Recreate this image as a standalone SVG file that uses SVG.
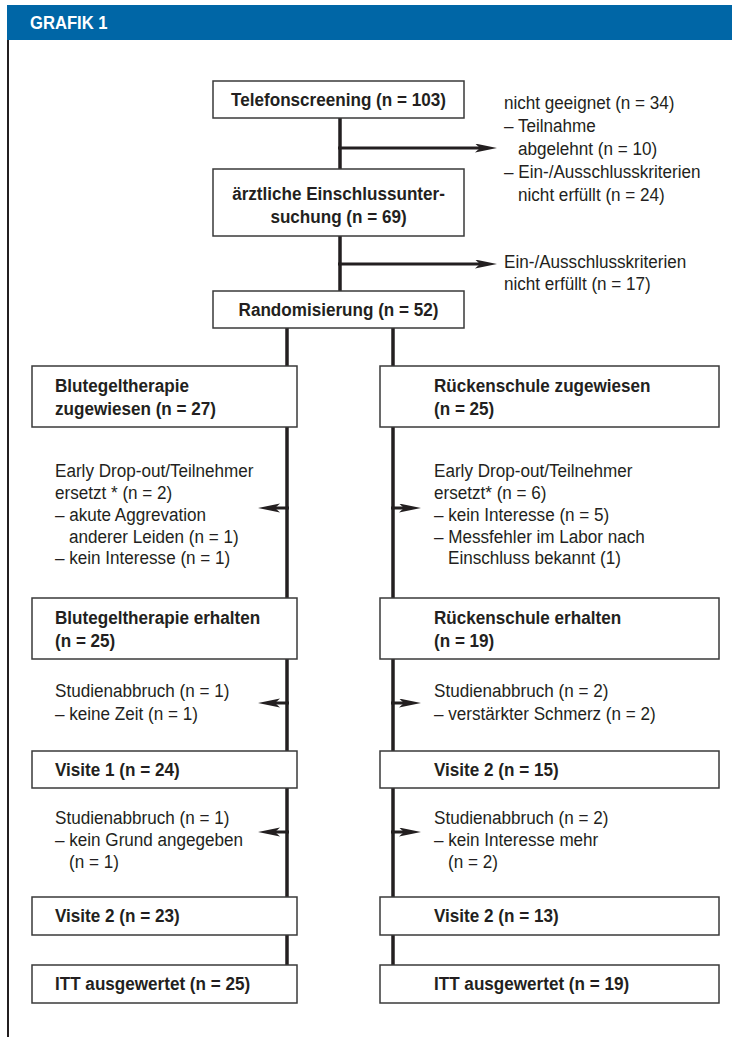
<svg xmlns="http://www.w3.org/2000/svg" width="732" height="1037" viewBox="0 0 732 1037">
<style>
.box{fill:#fff;stroke:#3a3a3a;stroke-width:1.5}
.b{font-family:"Liberation Sans",Arial,sans-serif;font-weight:bold;font-size:19px;fill:#231f20}
.t{font-family:"Liberation Sans",Arial,sans-serif;font-size:19px;fill:#231f20}
.c{text-anchor:middle}
.ln{fill:none;stroke:#231f20;stroke-width:3.5}
.ar{fill:none;stroke:#231f20;stroke-width:3;marker-end:url(#ah)}
</style>
<defs>
<marker id="ah" markerUnits="userSpaceOnUse" markerWidth="24" markerHeight="10" refX="5" refY="4.5" orient="auto" viewBox="0 0 24 10">
<path d="M0,0 L22,4.5 L0,9 L5,4.5 Z" fill="#231f20"/>
</marker>
</defs>
<rect x="0" y="0" width="732" height="1037" fill="#fff"/>
<g id="header">
<rect x="7" y="5" width="725" height="35" fill="#0066a6"/>
<g transform="translate(30 0) scale(0.9 1)">
<text x="0" y="29" font-family="Liberation Sans,Arial,sans-serif" font-weight="bold" font-size="18.5" fill="#fff">GRAFIK 1</text>
</g>
<line x1="8" y1="40" x2="8" y2="1037" stroke="#231f20" stroke-width="2"/>
</g>
<g id="connectors">
<path class="ln" d="M340,118 V170 M340,236 V291 M287,328 V965 M393,328 V965"/>
<path class="ar" d="M338,148 H480"/>
<path class="ar" d="M338,264 H480"/>
<path class="ar" d="M289,508 H275"/>
<path class="ar" d="M289,703 H275"/>
<path class="ar" d="M289,832 H275"/>
<path class="ar" d="M391,508 H404"/>
<path class="ar" d="M391,703 H404"/>
<path class="ar" d="M391,832 H404"/>
</g>
<g id="n-telefon">
<rect class="box" x="213" y="81" width="251" height="37"/>
<g transform="translate(338.5 0) scale(0.9 1)">
<text class="b c" x="0" y="106">Telefonscreening (n = 103)</text>
</g>
</g>
<g id="n-ungeeignet">
<g transform="translate(504 0) scale(0.9 1)">
<text class="t" x="0" y="109">nicht geeignet (n = 34)</text>
<text class="t" x="0" y="132">– Teilnahme</text>
<text class="t" x="15.6" y="155">abgelehnt (n = 10)</text>
<text class="t" x="0" y="178">– Ein-/Ausschlusskriterien</text>
<text class="t" x="15.6" y="201">nicht erfüllt (n = 24)</text>
</g>
</g>
<g id="n-aerztlich">
<rect class="box" x="213" y="169" width="251" height="67"/>
<g transform="translate(338.5 0) scale(0.9 1)">
<text class="b c" x="0" y="200">ärztliche Einschlussunter-</text>
<text class="b c" x="0" y="223">suchung (n = 69)</text>
</g>
</g>
<g id="n-ausschluss">
<g transform="translate(504 0) scale(0.9 1)">
<text class="t" x="0" y="268">Ein-/Ausschlusskriterien</text>
<text class="t" x="0" y="290">nicht erfüllt (n = 17)</text>
</g>
</g>
<g id="n-random">
<rect class="box" x="213" y="291" width="251" height="37"/>
<g transform="translate(338.5 0) scale(0.9 1)">
<text class="b c" x="0" y="316">Randomisierung (n = 52)</text>
</g>
</g>
<g id="n-blut-zug">
<rect class="box" x="32" y="366" width="265" height="61"/>
<g transform="translate(55 0) scale(0.9 1)">
<text class="b" x="0" y="392">Blutegeltherapie</text>
<text class="b" x="0" y="415">zugewiesen (n = 27)</text>
</g>
</g>
<g id="n-rueck-zug">
<rect class="box" x="380" y="366" width="339" height="61"/>
<g transform="translate(434 0) scale(0.9 1)">
<text class="b" x="0" y="392">Rückenschule zugewiesen</text>
<text class="b" x="0" y="415">(n = 25)</text>
</g>
</g>
<g id="n-blut-drop">
<g transform="translate(55 0) scale(0.9 1)">
<text class="t" x="0" y="477">Early Drop-out/Teilnehmer</text>
<text class="t" x="0" y="499">ersetzt * (n = 2)</text>
<text class="t" x="0" y="521">– akute Aggrevation</text>
<text class="t" x="15.6" y="543">anderer Leiden (n = 1)</text>
<text class="t" x="0" y="564">– kein Interesse (n = 1)</text>
</g>
</g>
<g id="n-rueck-drop">
<g transform="translate(434 0) scale(0.9 1)">
<text class="t" x="0" y="477">Early Drop-out/Teilnehmer</text>
<text class="t" x="0" y="499">ersetzt* (n = 6)</text>
<text class="t" x="0" y="521">– kein Interesse (n = 5)</text>
<text class="t" x="0" y="543">– Messfehler im Labor nach</text>
<text class="t" x="15.6" y="564">Einschluss bekannt (1)</text>
</g>
</g>
<g id="n-blut-erh">
<rect class="box" x="32" y="598" width="265" height="61"/>
<g transform="translate(55 0) scale(0.9 1)">
<text class="b" x="0" y="624">Blutegeltherapie erhalten</text>
<text class="b" x="0" y="647">(n = 25)</text>
</g>
</g>
<g id="n-rueck-erh">
<rect class="box" x="380" y="598" width="339" height="61"/>
<g transform="translate(434 0) scale(0.9 1)">
<text class="b" x="0" y="624">Rückenschule erhalten</text>
<text class="b" x="0" y="647">(n = 19)</text>
</g>
</g>
<g id="n-blut-abb1">
<g transform="translate(55 0) scale(0.9 1)">
<text class="t" x="0" y="697">Studienabbruch (n = 1)</text>
<text class="t" x="0" y="720">– keine Zeit (n = 1)</text>
</g>
</g>
<g id="n-rueck-abb1">
<g transform="translate(434 0) scale(0.9 1)">
<text class="t" x="0" y="697">Studienabbruch (n = 2)</text>
<text class="t" x="0" y="720">– verstärkter Schmerz (n = 2)</text>
</g>
</g>
<g id="n-blut-v1">
<rect class="box" x="32" y="751" width="265" height="37"/>
<g transform="translate(55 0) scale(0.9 1)">
<text class="b" x="0" y="776">Visite 1 (n = 24)</text>
</g>
</g>
<g id="n-rueck-v1">
<rect class="box" x="380" y="751" width="339" height="37"/>
<g transform="translate(434 0) scale(0.9 1)">
<text class="b" x="0" y="776">Visite 2 (n = 15)</text>
</g>
</g>
<g id="n-blut-abb2">
<g transform="translate(55 0) scale(0.9 1)">
<text class="t" x="0" y="824">Studienabbruch (n = 1)</text>
<text class="t" x="0" y="846">– kein Grund angegeben</text>
<text class="t" x="15.6" y="868">(n = 1)</text>
</g>
</g>
<g id="n-rueck-abb2">
<g transform="translate(434 0) scale(0.9 1)">
<text class="t" x="0" y="824">Studienabbruch (n = 2)</text>
<text class="t" x="0" y="846">– kein Interesse mehr</text>
<text class="t" x="15.6" y="868">(n = 2)</text>
</g>
</g>
<g id="n-blut-v2">
<rect class="box" x="32" y="897" width="265" height="38"/>
<g transform="translate(55 0) scale(0.9 1)">
<text class="b" x="0" y="922">Visite 2 (n = 23)</text>
</g>
</g>
<g id="n-rueck-v2">
<rect class="box" x="380" y="897" width="339" height="38"/>
<g transform="translate(434 0) scale(0.9 1)">
<text class="b" x="0" y="922">Visite 2 (n = 13)</text>
</g>
</g>
<g id="n-blut-itt">
<rect class="box" x="32" y="965" width="265" height="38"/>
<g transform="translate(55 0) scale(0.9 1)">
<text class="b" x="0" y="990">ITT ausgewertet (n = 25)</text>
</g>
</g>
<g id="n-rueck-itt">
<rect class="box" x="380" y="965" width="339" height="38"/>
<g transform="translate(434 0) scale(0.9 1)">
<text class="b" x="0" y="990">ITT ausgewertet (n = 19)</text>
</g>
</g>
</svg>
